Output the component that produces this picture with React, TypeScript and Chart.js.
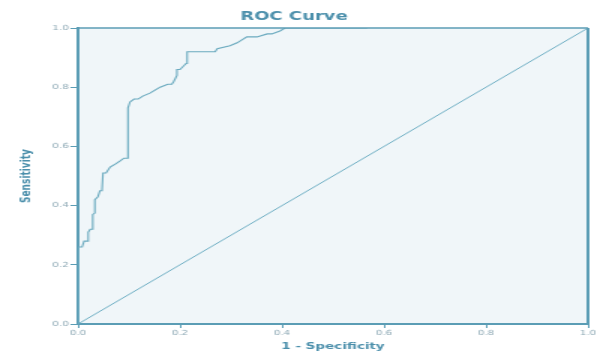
import React, { useEffect, useRef } from "react";
import { Chart, registerables } from "chart.js";

Chart.register(...registerables);

// ROC curve points (1 - specificity, sensitivity)
const fpr = [0, 0, 0.002, 0.008, 0.012, 0.018, 0.02, 0.024, 0.027, 0.029, 0.033, 0.033, 0.039, 0.043, 0.047, 0.049, 0.055, 0.063, 0.073, 0.082, 0.09, 0.098, 0.098, 0.102, 0.11, 0.118, 0.127, 0.141, 0.151, 0.161, 0.176, 0.184, 0.188, 0.194, 0.194, 0.2, 0.206, 0.212, 0.214, 0.239, 0.269, 0.273, 0.298, 0.312, 0.331, 0.351, 0.371, 0.38, 0.396, 0.406, 0.567];
const tpr = [0, 0.13, 0.26, 0.26, 0.28, 0.28, 0.31, 0.32, 0.32, 0.37, 0.375, 0.42, 0.43, 0.45, 0.45, 0.51, 0.51, 0.53, 0.54, 0.55, 0.56, 0.56, 0.73, 0.75, 0.76, 0.76, 0.77, 0.78, 0.79, 0.8, 0.81, 0.81, 0.82, 0.84, 0.86, 0.86, 0.87, 0.88, 0.92, 0.92, 0.92, 0.93, 0.94, 0.95, 0.97, 0.97, 0.98, 0.98, 0.99, 1.0, 1.0];

// Reference (chance) line
const refX = [0, 1];
const refY = [0, 1];

const titleText = "ROC Curve";
const xTitle = "1 - Specificity";
const yTitle = "Sensitivity";
const tickMin = 0;
const tickMax = 1;
const tickStep = 0.2;

const AXIS = "#5b9db5";
const TEXT = "#4b8fab";
const TICKTXT = "#8ea9b5";
const CURVE = "#6aaabf";
const PLOTBG = "#f0f6f9";

const frame = {
  id: "frame",
  beforeDraw(chart: any) {
    const { ctx, chartArea } = chart;
    ctx.save();
    ctx.fillStyle = PLOTBG;
    ctx.fillRect(chartArea.left, chartArea.top, chartArea.right - chartArea.left, chartArea.bottom - chartArea.top);
    ctx.restore();
  },
  afterDraw(chart: any) {
    const { ctx, chartArea } = chart;
    ctx.save();
    ctx.strokeStyle = AXIS;
    ctx.lineWidth = 1.5;
    ctx.beginPath();
    ctx.moveTo(chartArea.left, chartArea.top);
    ctx.lineTo(chartArea.right, chartArea.top);
    ctx.stroke();
    ctx.lineWidth = 2;
    ctx.beginPath();
    ctx.moveTo(chartArea.right, chartArea.top);
    ctx.lineTo(chartArea.right, chartArea.bottom);
    ctx.stroke();
    ctx.restore();
  },
};

export default function App() {
  const ref = useRef<HTMLCanvasElement | null>(null);

  useEffect(() => {
    document.body.style.margin = "0";
    const canvas = ref.current;
    if (!canvas) return;
    const chart = new Chart(canvas, {
      type: "line",
      data: {
        datasets: [
          {
            label: "ROC",
            data: fpr.map((x, i) => ({ x, y: tpr[i] })),
            borderColor: CURVE,
            borderWidth: 1.1,
            pointRadius: 0,
            fill: false,
            tension: 0,
          },
          {
            label: "Reference",
            data: refX.map((x, i) => ({ x, y: refY[i] })),
            borderColor: "#6fafc4",
            borderWidth: 1,
            pointRadius: 0,
            fill: false,
          },
        ],
      },
      plugins: [frame],
      options: {
        responsive: false,
        animation: false,
        events: [],
        layout: { padding: { left: 0, right: 6, top: 0, bottom: 0 } },
        plugins: {
          legend: { display: false },
          tooltip: { enabled: false },
          title: {
            display: true,
            text: titleText,
            color: TEXT,
            font: { family: "DejaVu Sans", size: 12, weight: "bold", lineHeight: 1.2 },
            padding: { top: 10, bottom: 3.6 },
          },
        },
        scales: {
          x: {
            type: "linear",
            min: tickMin,
            max: tickMax,
            afterFit: (s: any) => {
              s.height = 30;
              s.paddingLeft = 0;
              s.paddingRight = 0;
            },
            ticks: {
              stepSize: tickStep,
              color: TICKTXT,
              padding: 1,
              maxRotation: 0,
              font: { family: "DejaVu Sans", size: 7 },
              callback: (v: any) => Number(v).toFixed(1),
            },
            grid: { drawOnChartArea: false, drawTicks: true, tickLength: 4, color: AXIS, tickWidth: 1 },
            border: { display: true, color: AXIS, width: 2 },
            title: {
              display: true,
              text: xTitle,
              color: TEXT,
              font: { family: "DejaVu Sans", size: 9, weight: "bold", lineHeight: 1.2 },
              padding: { top: 0, bottom: 1.6 },
            },
          },
          y: {
            type: "linear",
            min: tickMin,
            max: tickMax,
            afterFit: (s: any) => {
              s.width = 52;
              s.paddingTop = 0;
              s.paddingBottom = 0;
            },
            ticks: {
              stepSize: tickStep,
              color: TICKTXT,
              padding: 1,
              font: { family: "DejaVu Sans", size: 7 },
              callback: (v: any) => Number(v).toFixed(1),
            },
            grid: { drawOnChartArea: false, drawTicks: true, tickLength: 5, color: AXIS, tickWidth: 1 },
            border: { display: true, color: AXIS, width: 2 },
            title: {
              display: true,
              text: yTitle,
              color: TEXT,
              font: { family: "DejaVu Sans", size: 9, weight: "bold", lineHeight: 1.2 },
              padding: { top: 12, bottom: 0 },
            },
          },
        },
      },
    } as any);
    return () => chart.destroy();
  }, []);

  return (
    <div style={{ position: "absolute", left: 0, top: 0, width: 597, height: 354, background: "#ffffff" }}>
      <canvas
        ref={ref}
        width={398}
        height={354}
        style={{ width: "597px", height: "354px", display: "block" }}
      />
    </div>
  );
}
